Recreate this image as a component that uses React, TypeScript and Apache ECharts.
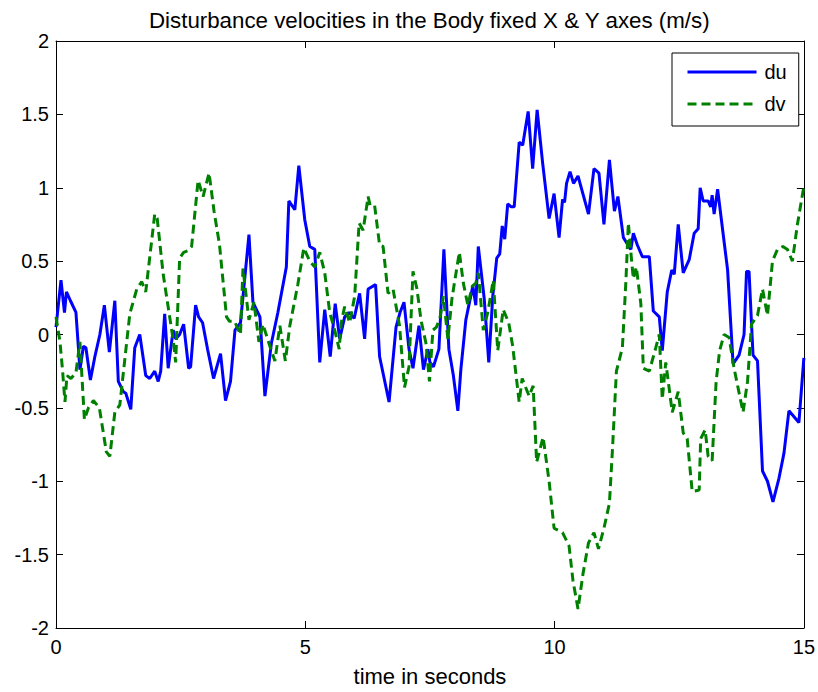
import React, { useEffect, useRef } from "react";
import * as echarts from "echarts";

const titleText = "Disturbance velocities in the Body fixed X & Y axes (m/s)";
const xLabel = "time in seconds";
const seriesNames = ["du", "dv"];

const duT = [0, 0.1, 0.17, 0.21, 0.29, 0.4, 0.48, 0.55, 0.6, 0.69, 0.78, 0.88, 0.97, 1.07, 1.18, 1.25, 1.35, 1.4, 1.5, 1.58, 1.68, 1.8, 1.88, 1.98, 2.05, 2.1, 2.18, 2.25, 2.35, 2.4, 2.48, 2.56, 2.66, 2.7, 2.8, 2.86, 2.94, 3.04, 3.16, 3.3, 3.4, 3.5, 3.59, 3.7, 3.87, 3.95, 4.09, 4.19, 4.32, 4.45, 4.62, 4.67, 4.79, 4.87, 4.99, 5.09, 5.19, 5.29, 5.39, 5.5, 5.6, 5.69, 5.79, 5.88, 5.98, 6.09, 6.19, 6.26, 6.41, 6.49, 6.68, 6.82, 6.9, 6.98, 7.08, 7.16, 7.28, 7.37, 7.46, 7.5, 7.57, 7.68, 7.78, 7.88, 7.97, 8.06, 8.12, 8.22, 8.36, 8.42, 8.47, 8.59, 8.68, 8.76, 8.84, 8.9, 8.95, 9.0, 9.06, 9.13, 9.19, 9.29, 9.36, 9.47, 9.56, 9.65, 9.76, 9.89, 9.99, 10.09, 10.16, 10.2, 10.24, 10.31, 10.38, 10.47, 10.68, 10.79, 10.89, 10.99, 11.1, 11.2, 11.27, 11.38, 11.53, 11.58, 11.66, 11.76, 11.9, 11.98, 12.1, 12.16, 12.26, 12.35, 12.4, 12.48, 12.58, 12.7, 12.8, 12.88, 12.92, 12.98, 13.08, 13.13, 13.16, 13.2, 13.27, 13.47, 13.58, 13.7, 13.8, 13.85, 13.9, 13.98, 14.07, 14.17, 14.27, 14.38, 14.5, 14.6, 14.7, 14.9, 15.0];
const duV = [0.05, 0.37, 0.15, 0.29, 0.23, 0.15, -0.24, -0.08, -0.09, -0.31, -0.15, 0.0, 0.2, -0.12, 0.23, -0.32, -0.39, -0.4, -0.51, -0.09, 0.0, -0.28, -0.3, -0.25, -0.32, -0.25, 0.14, -0.23, 0.03, -0.03, 0.0, 0.07, -0.23, -0.22, 0.2, 0.12, 0.08, -0.1, -0.3, -0.13, -0.45, -0.32, 0.03, 0.08, 0.68, 0.22, 0.12, -0.42, -0.06, 0.15, 0.46, 0.91, 0.85, 1.15, 0.78, 0.6, 0.58, -0.19, 0.17, -0.15, 0.21, -0.03, 0.12, 0.15, 0.11, 0.28, -0.03, 0.31, 0.34, -0.15, -0.46, 0.05, 0.15, 0.22, -0.1, -0.23, 0.06, -0.24, -0.1, -0.19, -0.22, -0.1, 0.58, -0.1, -0.28, -0.52, -0.24, 0.1, 0.33, 0.2, 0.6, 0.24, -0.19, 0.26, 0.52, 0.55, 0.74, 0.65, 0.89, 0.87, 0.87, 1.31, 1.29, 1.52, 1.13, 1.53, 1.17, 0.79, 0.96, 0.66, 0.92, 0.9, 1.03, 1.11, 1.03, 1.08, 0.82, 1.13, 1.1, 0.75, 1.19, 0.84, 0.94, 0.66, 0.58, 0.69, 0.61, 0.53, 0.53, 0.16, 0.12, -0.11, 0.29, 0.44, 0.41, 0.75, 0.42, 0.51, 0.69, 0.72, 1.0, 0.91, 0.91, 0.87, 0.95, 0.82, 0.99, 0.44, -0.2, -0.14, 0.0, 0.43, 0.43, -0.14, -0.18, -0.93, -1.0, -1.14, -0.98, -0.81, -0.52, -0.6, -0.16];

const dvT = [0, 0.08, 0.13, 0.18, 0.22, 0.3, 0.4, 0.48, 0.57, 0.65, 0.75, 0.87, 1.01, 1.08, 1.18, 1.28, 1.48, 1.62, 1.72, 1.8, 1.98, 2.03, 2.15, 2.28, 2.36, 2.4, 2.48, 2.56, 2.64, 2.72, 2.85, 2.95, 3.07, 3.17, 3.28, 3.42, 3.48, 3.58, 3.7, 3.75, 3.87, 3.97, 4.07, 4.15, 4.29, 4.39, 4.49, 4.6, 4.69, 4.85, 4.97, 5.09, 5.19, 5.29, 5.39, 5.49, 5.59, 5.68, 5.72, 5.79, 5.89, 5.99, 6.08, 6.16, 6.26, 6.3, 6.39, 6.49, 6.56, 6.66, 6.76, 6.89, 6.99, 7.08, 7.16, 7.24, 7.32, 7.42, 7.49, 7.56, 7.63, 7.7, 7.77, 7.86, 7.94, 7.99, 8.09, 8.17, 8.26, 8.35, 8.42, 8.47, 8.57, 8.66, 8.77, 8.86, 8.97, 9.08, 9.16, 9.29, 9.35, 9.49, 9.57, 9.64, 9.77, 9.89, 9.99, 10.16, 10.29, 10.37, 10.47, 10.57, 10.68, 10.79, 10.88, 10.99, 11.1, 11.16, 11.24, 11.36, 11.43, 11.48, 11.54, 11.58, 11.64, 11.73, 11.78, 11.9, 12.03, 12.1, 12.16, 12.23, 12.28, 12.36, 12.48, 12.58, 12.66, 12.76, 12.9, 12.93, 13.02, 13.08, 13.16, 13.24, 13.31, 13.4, 13.5, 13.6, 13.78, 13.87, 13.95, 14.07, 14.17, 14.27, 14.37, 14.47, 14.58, 14.67, 14.77, 14.87, 15.0];
const dvV = [0.12, -0.05, -0.24, -0.46, -0.28, -0.3, -0.26, -0.05, -0.58, -0.5, -0.45, -0.5, -0.8, -0.83, -0.53, -0.48, 0.14, 0.31, 0.36, 0.29, 0.82, 0.79, 0.41, 0.12, -0.06, -0.19, 0.52, 0.56, 0.57, 0.6, 1.05, 0.94, 1.1, 0.84, 0.61, 0.12, 0.09, 0.09, 0.0, 0.45, 0.1, 0.22, -0.05, 0.07, -0.08, -0.18, 0.06, -0.18, 0.06, 0.34, 0.59, 0.5, 0.46, 0.56, 0.42, 0.15, 0.03, -0.1, 0.08, 0.19, 0.08, 0.26, 0.76, 0.71, 0.94, 0.88, 0.88, 0.61, 0.6, 0.28, 0.31, 0.06, -0.36, -0.22, 0.43, 0.31, 0.1, -0.06, -0.32, 0.03, 0.05, 0.11, 0.26, -0.03, 0.24, 0.35, 0.56, 0.35, 0.2, 0.33, 0.35, 0.42, 0.03, 0.15, 0.37, -0.11, 0.17, 0.08, -0.08, -0.46, -0.3, -0.42, -0.35, -0.87, -0.7, -1.0, -1.32, -1.35, -1.44, -1.68, -1.87, -1.63, -1.42, -1.35, -1.46, -1.32, -1.15, -0.79, -0.25, -0.09, 0.36, 0.76, 0.52, 0.38, 0.46, 0.21, -0.23, -0.25, -0.09, 0.0, -0.44, -0.19, -0.32, -0.53, -0.39, -0.67, -0.71, -1.07, -1.06, -0.71, -0.65, -0.83, -0.86, -0.32, -0.11, 0.0, -0.02, -0.23, -0.53, -0.32, 0.07, 0.13, 0.31, 0.13, 0.5, 0.58, 0.6, 0.58, 0.5, 0.75, 1.01];

const FONT = "'Liberation Sans', Arial, Helvetica, sans-serif";

function zip(t: number[], v: number[]) {
  return t.map((x, i) => [x, v[i]]);
}

export default function App() {
  const ref = useRef<HTMLDivElement>(null);
  useEffect(() => {
    if (!ref.current) return;
    const chart = echarts.init(ref.current, null, { renderer: "svg" });
    const axisLine = { show: true, onZero: false, lineStyle: { color: "#000", width: 1 } };
    const tick = { show: true, inside: true, length: 7, lineStyle: { color: "#000", width: 1 } };
    chart.setOption({
      animation: false,
      backgroundColor: "#fff",
      title: {
        text: titleText,
        left: 144,
        top: 4,
        textStyle: { fontFamily: FONT, fontSize: 22.3, fontWeight: "normal", color: "#000" },
      },
      grid: { left: 56, right: 13, top: 41, bottom: 63, containLabel: false },
      legend: {
        data: seriesNames,
        orient: "vertical",
        left: 672,
        top: 53,
        padding: [9, 12, 12, 14],
        itemGap: 12,
        itemWidth: 69,
        itemHeight: 20,
        borderColor: "#000",
        borderWidth: 1,
        borderRadius: 0,
        backgroundColor: "#fff",
        itemStyle: { opacity: 0 },
        lineStyle: { width: 3 },
        textStyle: { fontFamily: FONT, fontSize: 20, color: "#000", padding: [0, 0, 0, 3] },
      },
      xAxis: [
        {
          type: "value",
          min: 0,
          max: 15,
          interval: 5,
          position: "bottom",
          name: xLabel,
          nameLocation: "middle",
          nameGap: 37,
          nameTextStyle: { fontFamily: FONT, fontSize: 22, color: "#000" },
          axisLine,
          axisTick: tick,
          axisLabel: { fontFamily: FONT, fontSize: 20, color: "#000", margin: 9 },
          splitLine: { show: false },
        },
        {
          type: "value",
          min: 0,
          max: 15,
          interval: 5,
          position: "top",
          axisLine,
          axisTick: tick,
          axisLabel: { show: false },
          splitLine: { show: false },
        },
      ],
      yAxis: [
        {
          type: "value",
          min: -2,
          max: 2,
          interval: 0.5,
          position: "left",
          axisLine,
          axisTick: tick,
          axisLabel: { fontFamily: FONT, fontSize: 20, color: "#000", margin: 7 },
          splitLine: { show: false },
        },
        {
          type: "value",
          min: -2,
          max: 2,
          interval: 0.5,
          position: "right",
          axisLine,
          axisTick: tick,
          axisLabel: { show: false },
          splitLine: { show: false },
        },
      ],
      series: [
        {
          name: seriesNames[0],
          type: "line",
          data: zip(duT, duV),
          symbol: "none",
          lineStyle: { color: "#0000ff", width: 3 },
          itemStyle: { color: "#0000ff" },
          z: 2,
        },
        {
          name: seriesNames[1],
          type: "line",
          data: zip(dvT, dvV),
          symbol: "none",
          lineStyle: { color: "#008000", width: 3, type: [9, 5] },
          itemStyle: { color: "#008000" },
          z: 3,
        },
      ],
    });
    return () => chart.dispose();
  }, []);
  return (
    <div
      ref={ref}
      style={{ position: "absolute", left: 0, top: 0, width: 818, height: 692, background: "#fff" }}
    />
  );
}
